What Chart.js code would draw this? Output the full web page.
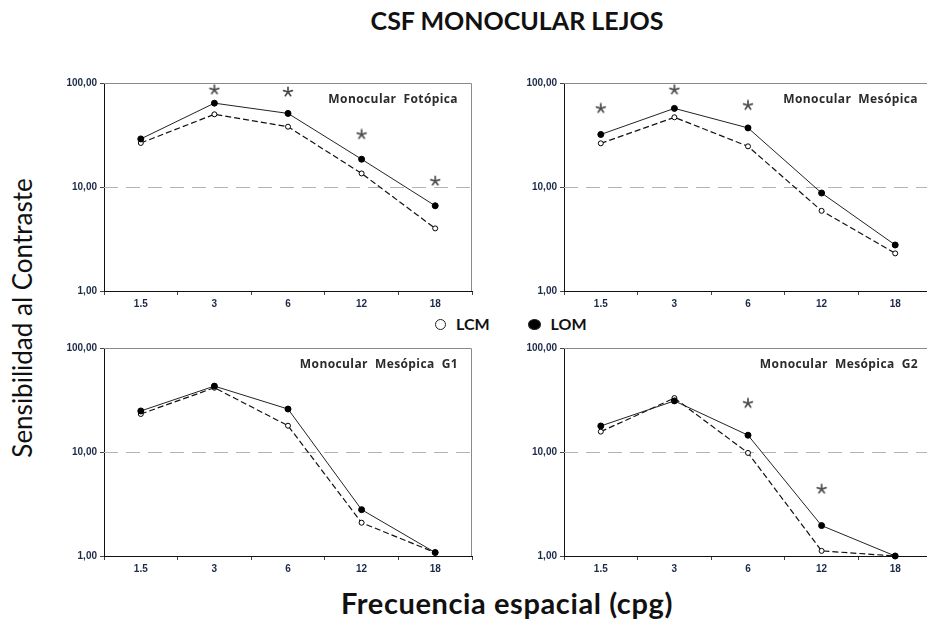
<!DOCTYPE html>
<html>
<head>
<meta charset="utf-8">
<title>CSF Monocular Lejos</title>
<script src="https://cdn.jsdelivr.net/npm/chart.js@4.4.0/dist/chart.umd.min.js"></script>
<style>
    body { margin: 0; background: #fff; overflow: hidden; }
    #page { position: relative; width: 927px; height: 619px; overflow: hidden; font-family: Lato, "Open Sans", sans-serif; color: #111; }
    canvas { position: absolute; }
    .txt { position: absolute; white-space: nowrap; }
    #mainTitle { left: 517px; top: 5px; transform: translateX(-50%); font-size: 25px; font-weight: bold; }
    #xTitle { left: 507px; top: 585px; transform: translateX(-50%); font-size: 29px; font-weight: bold; letter-spacing: 0.6px; }
    #yTitle { left: 22px; top: 318px; transform: translate(-50%, -50%) rotate(-90deg); font-size: 26px; }
    #legend { left: 435px; top: 314px; font-size: 16px; font-weight: bold; }
    .dot { display: inline-block; width: 9px; height: 9px; border-radius: 50%; border: 1.3px solid #222; margin-right: 10px; vertical-align: 0px; }
    .dot.full { background: #000; width: 11px; height: 9px; }
</style>
</head>
<body>
<div id="page">
    <div class="txt" id="mainTitle">CSF MONOCULAR LEJOS</div>
    <div class="txt" id="yTitle">Sensibilidad al Contraste</div>
    <div class="txt" id="xTitle">Frecuencia espacial (cpg)</div>
    <div class="txt" id="legend"><span class="dot"></span>LCM<span style="display:inline-block;width:38px"></span><span class="dot full"></span>LOM</div>
    <canvas id="c1" width="430" height="240" style="left:50px;top:70px"></canvas>
    <canvas id="c2" width="430" height="240" style="left:510px;top:70px"></canvas>
    <canvas id="c3" width="430" height="240" style="left:50px;top:335px"></canvas>
    <canvas id="c4" width="430" height="240" style="left:510px;top:335px"></canvas>
</div>
<script>
//data
const freqs = ["1.5", "3", "6", "12", "18"];
const yTicks = [1, 10, 100];
const yTickLabels = ["1,00", "10,00", "100,00"];

//Monocular Fotopica
const lcmFot = [26.5, 50, 38, 13.5, 4.0];
const lomFot = [29, 64, 51, 18.5, 6.6];
const astFot = [null, 86, 82, 32, 11.4];

//Monocular Mesopica
const lcmMes = [26.3, 46.8, 24.6, 5.9, 2.3];
const lomMes = [32, 57, 37, 8.75, 2.77];
const astMes = [57, 86, 61, null, null];

//Monocular Mesopica G1
const lcmG1 = [23.2, 41.5, 17.9, 2.09, 1.08];
const lomG1 = [24.8, 43, 25.9, 2.79, 1.08];
const astG1 = [null, null, null, null, null];

//Monocular Mesopica G2
const lcmG2 = [15.7, 33, 9.8, 1.12, 1.0];
const lomG2 = [17.8, 31, 14.5, 1.96, 1.0];
const astG2 = [null, null, 29.4, 4.4, null];

let go = {}; //holds the charts

document.addEventListener("DOMContentLoaded", () => {
    go.star = makeStar();
    go.charts = [
        drawPanel("c1", "Monocular  Fotópica", lcmFot, lomFot, astFot),
        drawPanel("c2", "Monocular  Mesópica", lcmMes, lomMes, astMes),
        drawPanel("c3", "Monocular  Mesópica  G1", lcmG1, lomG1, astG1),
        drawPanel("c4", "Monocular  Mesópica  G2", lcmG2, lomG2, astG2)
    ];
});

//small asterisk used as a point style for the significance marks
function makeStar() {
    let c = document.createElement("canvas");
    c.width = 12;
    c.height = 12;
    let ctx = c.getContext("2d");
    ctx.strokeStyle = "#4a4a4a";
    ctx.lineWidth = 1.7;
    ctx.lineCap = "round";
    for (let i = 0; i < 5; i++) {
        let a = (-90 + i * 72) * Math.PI / 180;
        ctx.beginPath();
        ctx.moveTo(6, 6);
        ctx.lineTo(6 + Math.cos(a) * 4.6, 6 + Math.sin(a) * 4.6);
        ctx.stroke();
    }
    return c;
}

//dashed reference line at 10, top/right frame and the panel title
const panelDecor = {
    id: "panelDecor",
    beforeDatasetsDraw(chart) {
        let ctx = chart.ctx;
        let a = chart.chartArea;
        let y10 = chart.scales.y.getPixelForValue(10);
        ctx.save();
        ctx.strokeStyle = "#b4b4b4";
        ctx.lineWidth = 1;
        ctx.setLineDash([14, 8]);
        ctx.beginPath();
        ctx.moveTo(a.left, Math.round(y10) + 0.5);
        ctx.lineTo(a.right, Math.round(y10) + 0.5);
        ctx.stroke();
        ctx.setLineDash([]);
        ctx.strokeStyle = "#8a8a8a";
        ctx.beginPath();
        ctx.moveTo(a.left, a.top + 0.5);
        ctx.lineTo(a.right - 0.5, a.top + 0.5);
        ctx.lineTo(a.right - 0.5, a.bottom);
        ctx.stroke();
        ctx.restore();
    },
    afterDraw(chart, args, opts) {
        let ctx = chart.ctx;
        let a = chart.chartArea;
        ctx.save();
        ctx.font = "bold 12px 'Open Sans', sans-serif";
        ctx.letterSpacing = "0.4px";
        ctx.fillStyle = "#2b2b2b";
        ctx.textAlign = "right";
        ctx.textBaseline = "middle";
        ctx.fillText(opts.text, a.left + 354, a.top + 17);
        ctx.restore();
    }
};

//one of the four small plots
function drawPanel(id, title, lcm, lom, ast) {
    let context = document.getElementById(id).getContext("2d");
    let tickFont = { family: "'Liberation Sans', Arial, sans-serif", size: 10, weight: "bold" };

    return new Chart(context, {
        type: "line",
        data: {
            labels: freqs,
            datasets: [
                {
                    label: "LOM",
                    data: lom,
                    borderColor: "#222",
                    borderWidth: 1,
                    pointRadius: 3,
                    pointBackgroundColor: "#000",
                    pointBorderColor: "#000",
                    pointBorderWidth: 1,
                    clip: false
                },
                {
                    label: "LCM",
                    data: lcm,
                    borderColor: "#111",
                    borderWidth: 1.2,
                    borderDash: [6, 3],
                    pointRadius: 2.5,
                    pointBackgroundColor: "#fff",
                    pointBorderColor: "#000",
                    pointBorderWidth: 1,
                    clip: false
                },
                {
                    label: "sig",
                    data: ast,
                    showLine: false,
                    pointStyle: go.star,
                    pointRadius: 6,
                    clip: false
                }
            ]
        },
        options: {
            responsive: false,
            animation: false,
            layout: { padding: { top: 13, right: 8, left: 0, bottom: 0 } },
            plugins: {
                legend: { display: false },
                tooltip: { enabled: false },
                panelDecor: { text: title }
            },
            scales: {
                x: {
                    type: "category",
                    offset: true,
                    grid: { offset: true, drawOnChartArea: false, tickColor: "#444", tickLength: 4 },
                    border: { color: "#111", width: 1 },
                    ticks: { font: tickFont, color: "#1c2a48", padding: 3, maxRotation: 0 },
                    afterFit: (scale) => { scale.height = 19; }
                },
                y: {
                    type: "logarithmic",
                    min: 1,
                    max: 100,
                    afterBuildTicks: (scale) => { scale.ticks = yTicks.map(v => ({ value: v })); },
                    grid: { drawOnChartArea: false, tickColor: "#444", tickLength: 4 },
                    border: { color: "#111", width: 1 },
                    ticks: {
                        font: tickFont,
                        color: "#1c2a48",
                        padding: 3,
                        callback: (v) => yTickLabels[yTicks.indexOf(v)]
                    },
                    afterFit: (scale) => { scale.width = 54; }
                }
            }
        },
        plugins: [panelDecor]
    });
}
</script>
</body>
</html>
